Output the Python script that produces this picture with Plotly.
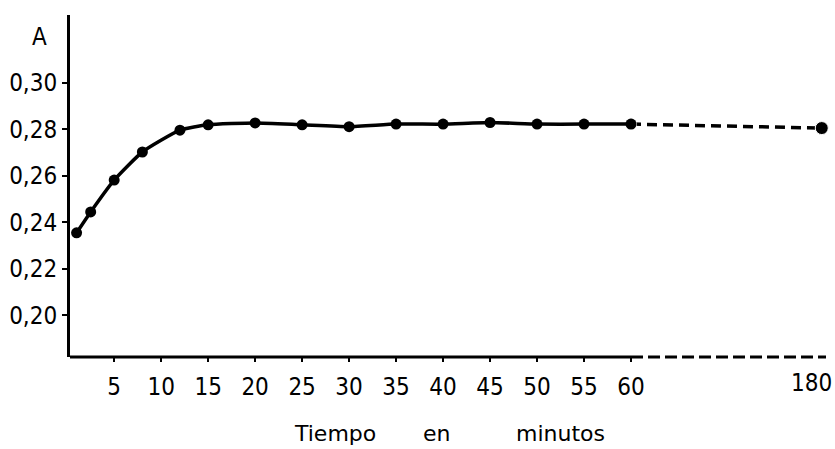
import plotly.graph_objects as go

# --- data ---
tiempo_min = [1, 2.5, 5, 8, 12, 15, 20, 25, 30, 35, 40, 45, 50, 55, 60]
absorbancia = [0.2355, 0.2445, 0.2582, 0.2703, 0.2797, 0.2820, 0.2828, 0.2820,
               0.2812, 0.2823, 0.2823, 0.2830, 0.2823, 0.2823, 0.2823]
tiempo_final = [60, 180]
absorbancia_final = [0.2823, 0.2806]
x_ticks = [5, 10, 15, 20, 25, 30, 35, 40, 45, 50, 55, 60]
x_tick_last = 180
y_ticks = [0.20, 0.22, 0.24, 0.26, 0.28, 0.30]

# broken time axis: linear up to 60 min, compressed afterwards
BREAK = 60
COMPRESS = 20.3 / 120.0


def pos(t):
    return t if t <= BREAK else BREAK + (t - BREAK) * COMPRESS


X_MIN, X_MAX = 0.3, pos(180) + 0.45
Y_MIN, Y_MAX = 0.182, 0.3293
TICKFONT = dict(family="Liberation Sans Narrow, DejaVu Sans Condensed, DejaVu Sans",
                size=24, color="black")
TITLEFONT = dict(family="DejaVu Sans", size=22, color="black")

fig = go.Figure()
fig.add_trace(go.Scatter(
    x=[pos(t) for t in tiempo_final], y=absorbancia_final,
    mode="lines+markers",
    line=dict(color="black", width=3.5, dash="10px,6px"),
    marker=dict(color="black", size=[11, 13], opacity=1),
    showlegend=False, cliponaxis=False))
fig.add_trace(go.Scatter(
    x=[pos(t) for t in tiempo_min], y=absorbancia,
    mode="lines+markers",
    line=dict(color="black", width=3.5, shape="spline", smoothing=0.5),
    marker=dict(color="black", size=11, opacity=1),
    showlegend=False, cliponaxis=False))

# x axis line: solid to 60, dashed beyond
fig.add_shape(type="line", xref="x", yref="paper", x0=X_MIN, x1=BREAK, y0=0, y1=0,
              line=dict(color="black", width=3))
fig.add_shape(type="line", xref="x", yref="paper", x0=BREAK, x1=X_MAX, y0=0, y1=0,
              line=dict(color="black", width=3, dash="12px,5px"))

fig.update_layout(
    width=835, height=449,
    margin=dict(l=70, r=9, t=15, b=92),
    paper_bgcolor="white", plot_bgcolor="white",
    separators=",.",
    font=TICKFONT,
    hovermode=False,
    xaxis=dict(range=[X_MIN, X_MAX], showgrid=False, zeroline=False, showline=False,
               automargin=False,
               tickvals=[pos(t) for t in x_ticks], ticktext=[str(t) for t in x_ticks],
               ticks="outside", ticklen=4, tickwidth=2, tickcolor="black",
               ticklabelstandoff=4, tickfont=TICKFONT),
    yaxis=dict(range=[Y_MIN, Y_MAX], showgrid=False, zeroline=False,
               automargin=False,
               showline=True, linecolor="black", linewidth=3,
               tickvals=y_ticks, tickformat=".2f", tickfont=TICKFONT,
               ticks="outside", ticklen=5, tickwidth=2, tickcolor="black",
               ticklabelstandoff=0),
)
# label for the last (broken-axis) time value
fig.add_annotation(text=str(x_tick_last), xref="x", yref="paper", x=pos(x_tick_last),
                   y=0, yanchor="top", xanchor="center", xshift=-10, yshift=-10,
                   showarrow=False, font=TICKFONT)
# y axis name
fig.add_annotation(text="A", xref="paper", yref="paper", x=-0.040, y=0.936,
                   showarrow=False, font=TICKFONT, xanchor="center", yanchor="middle")
# x axis title
for word, xc in [("Tiempo", 335), ("en", 436), ("minutos", 560)]:
    fig.add_annotation(text=word, xref="paper", yref="paper",
                       x=(xc - 70) / 756.0, y=-0.225, xanchor="center", yanchor="middle",
                       showarrow=False, font=TITLEFONT)

fig.write_html("out.html", config={"displayModeBar": False},
               post_script="document.body.style.margin='0px';"
                           "document.body.style.overflow='hidden';")
